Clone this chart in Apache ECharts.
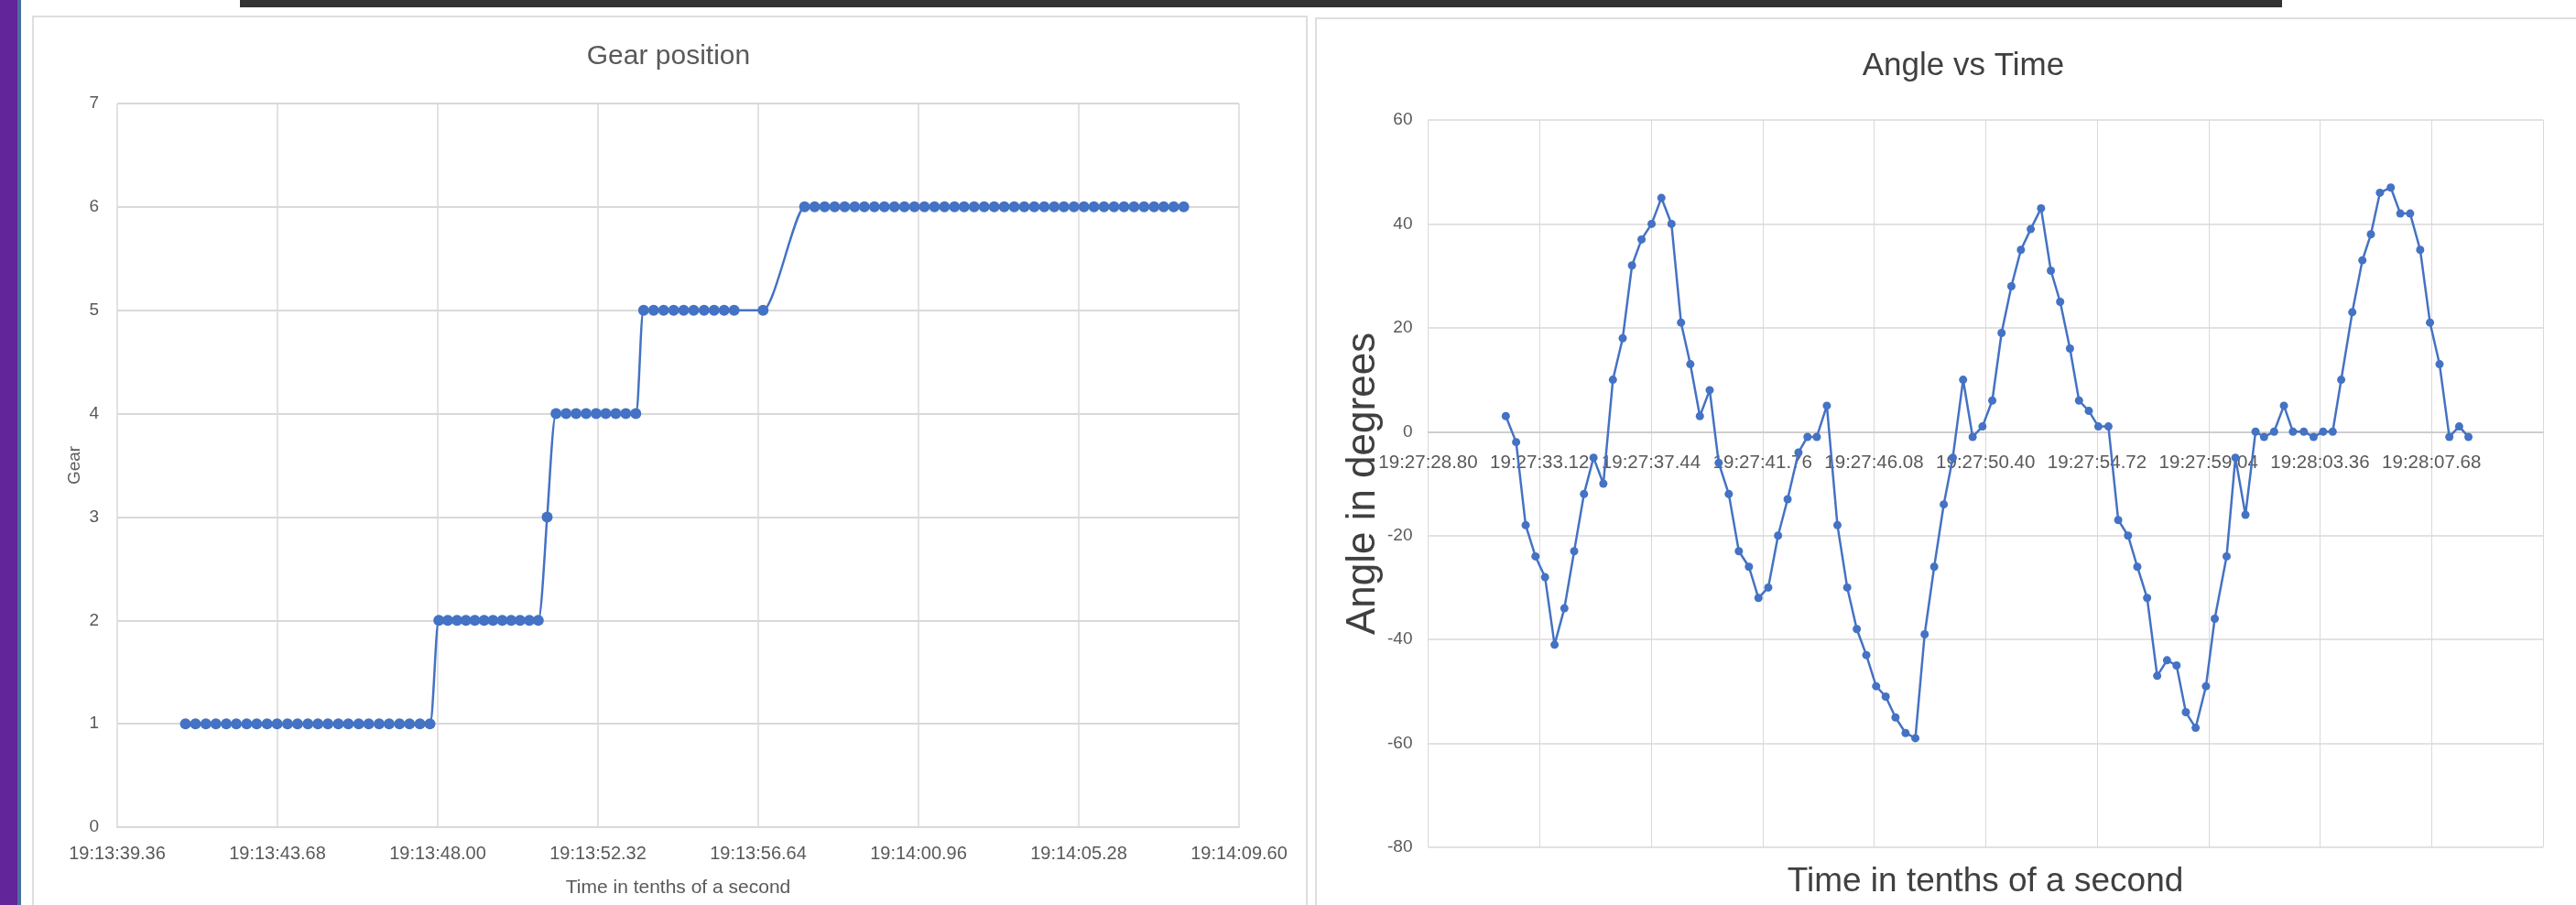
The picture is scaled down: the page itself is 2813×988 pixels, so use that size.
<!DOCTYPE html>
<html>
<head>
<meta charset="utf-8">
<script src="https://cdn.jsdelivr.net/npm/echarts@6/dist/echarts.min.js"></script>
<style>
    html, body { margin: 0; padding: 0; width: 2813px; height: 988px; background: #ffffff; overflow: hidden; }
    #leftbar { position: absolute; left: 0; top: 0; width: 19px; height: 988px; background: #62259a; }
    #leftedge { position: absolute; left: 19px; top: 0; width: 4px; height: 988px; background: #4b6e9e; }
    #topbar { position: absolute; left: 262px; top: 0; width: 2230px; height: 8px; background: #333333; }
    .panel { position: absolute; top: 17px; height: 990px; border: 2px solid #dedede; }
    #panel1 { left: 35px; width: 1389px; }
    #panel2 { left: 1436px; width: 1400px; top: 19px; }
    #chart { position: absolute; left: 0; top: 0; width: 2813px; height: 988px; }
</style>
</head>
<body>
<div id="leftbar"></div>
<div id="leftedge"></div>
<div id="topbar"></div>
<div class="panel" id="panel1"></div>
<div class="panel" id="panel2"></div>
<div id="chart"></div>
<script>
// gear chart: time in seconds after 19:13:00
const gearAxisStart = 39.36;
const gearTickStep = 4.32;
const gearTickLabels = ['19:13:39.36', '19:13:43.68', '19:13:48.00', '19:13:52.32',
    '19:13:56.64', '19:14:00.96', '19:14:05.28', '19:14:09.60'];
const gearSeconds = [
    41.20, 41.47, 41.75, 42.02, 42.30, 42.57, 42.85, 43.12, 43.40, 43.67,
    43.95, 44.22, 44.50, 44.77, 45.04, 45.32, 45.59, 45.87, 46.14, 46.42,
    46.69, 46.97, 47.24, 47.52, 47.79,
    48.03, 48.27, 48.52, 48.76, 49.00, 49.25, 49.49, 49.74, 49.98, 50.22, 50.47, 50.71,
    50.95,
    51.19, 51.46, 51.73, 52.00, 52.27, 52.53, 52.80, 53.07, 53.34,
    53.55, 53.82, 54.09, 54.36, 54.63, 54.90, 55.18, 55.45, 55.72, 55.99, 56.77,
    57.89, 58.16, 58.43, 58.70, 58.97, 59.24, 59.50, 59.77, 60.04, 60.31,
    60.58, 60.85, 61.12, 61.39, 61.66, 61.93, 62.19, 62.46, 62.73, 63.00,
    63.27, 63.54, 63.81, 64.08, 64.35, 64.62, 64.88, 65.15, 65.42, 65.69,
    65.96, 66.23, 66.50, 66.77, 67.04, 67.31, 67.57, 67.84, 68.11
];
const gearValues = [
    1, 1, 1, 1, 1, 1, 1, 1, 1, 1, 1, 1, 1, 1, 1, 1, 1, 1, 1, 1, 1, 1, 1, 1, 1,
    2, 2, 2, 2, 2, 2, 2, 2, 2, 2, 2, 2,
    3,
    4, 4, 4, 4, 4, 4, 4, 4, 4,
    5, 5, 5, 5, 5, 5, 5, 5, 5, 5, 5,
    6, 6, 6, 6, 6, 6, 6, 6, 6, 6, 6, 6, 6, 6, 6, 6, 6, 6, 6, 6,
    6, 6, 6, 6, 6, 6, 6, 6, 6, 6, 6, 6, 6, 6, 6, 6, 6, 6, 6
];

// angle chart: time in seconds after 19:27:28.80
const angleTickStep = 4.32;
const angleTickLabels = ['19:27:28.80', '19:27:33.12', '19:27:37.44', '19:27:41.76',
    '19:27:46.08', '19:27:50.40', '19:27:54.72', '19:27:59.04', '19:28:03.36', '19:28:07.68'];
const angleSeconds = [
    3.01, 3.41, 3.78, 4.16, 4.53, 4.90, 5.28, 5.66, 6.04, 6.41,
    6.79, 7.16, 7.54, 7.90, 8.27, 8.66, 9.04, 9.43, 9.80, 10.16,
    10.53, 10.91, 11.26, 11.65, 12.04, 12.43, 12.80, 13.18, 13.56, 13.93,
    14.35, 14.70, 15.06, 15.45, 15.86, 16.24, 16.61, 16.98, 17.36, 17.73,
    18.11, 18.50, 18.88, 19.24, 19.61, 19.98, 20.33, 20.73, 21.10, 21.48,
    21.86, 22.22, 22.60, 22.97, 23.35, 23.75, 24.13, 24.49, 24.87, 25.22,
    25.60, 25.97, 26.36, 26.74, 27.12, 27.48, 27.86, 28.25, 28.63, 29.00,
    29.36, 29.74, 30.14, 30.48, 30.94, 31.28, 31.67, 32.06, 32.39, 32.78,
    33.16, 33.51, 33.93, 34.31, 34.68, 35.05, 35.38, 35.81, 36.20, 36.53,
    36.88, 37.30, 37.67, 38.05, 38.44, 38.82, 39.19, 39.57, 39.95, 40.31
];
const angleValues = [
    3, -2, -18, -24, -28, -41, -34, -23, -12, -5,
    -10, 10, 18, 32, 37, 40, 45, 40, 21, 13,
    3, 8, -6, -12, -23, -26, -32, -30, -20, -13,
    -4, -1, -1, 5, -18, -30, -38, -43, -49, -51,
    -55, -58, -59, -39, -26, -14, -5, 10, -1, 1,
    6, 19, 28, 35, 39, 43, 31, 25, 16, 6,
    4, 1, 1, -17, -20, -26, -32, -47, -44, -45,
    -54, -57, -49, -36, -24, -5, -16, 0, -1, 0,
    5, 0, 0, -1, 0, 0, 10, 23, 33, 38,
    46, 47, 42, 42, 35, 21, 13, -1, 1, -1
];

const SANS = "'Liberation Sans', Arial, sans-serif";
const BLUE = '#4472c4';
const GRID_GRAY = '#d9d9d9';

const gearData = gearSeconds.map((t, i) => [t - gearAxisStart, gearValues[i]]);
const angleData = angleSeconds.map((t, i) => [t, angleValues[i]]);

var chart = echarts.init(document.getElementById('chart'), null, { renderer: 'canvas' });

var option = {
    animation: false,
    title: [
        {
            text: 'Gear position',
            left: 725,
            top: 42,
            textAlign: 'center',
            textStyle: { fontFamily: SANS, fontSize: 30, fontWeight: 'normal', color: '#595959' }
        },
        {
            text: 'Angle vs Time',
            left: 2139,
            top: 50,
            textAlign: 'center',
            textStyle: { fontFamily: SANS, fontSize: 35, fontWeight: 'normal', color: '#404040' }
        },
        {
            // x axis title of the angle chart (its axis line sits on zero)
            text: 'Time in tenths of a second',
            left: 2163,
            top: 939,
            textAlign: 'center',
            textStyle: { fontFamily: SANS, fontSize: 37, fontWeight: 'normal', color: '#404040' }
        }
    ],
    grid: [
        { left: 128, right: 1460, top: 113, bottom: 85 },
        { left: 1559.5, right: 36, top: 131, bottom: 63 }
    ],
    xAxis: [
        {
            gridIndex: 0,
            type: 'value',
            min: 0,
            max: 30.24,
            interval: gearTickStep,
            axisLine: { show: true, lineStyle: { color: GRID_GRAY, width: 2 } },
            axisTick: { show: false },
            axisLabel: {
                margin: 19,
                fontFamily: SANS,
                fontSize: 20,
                color: '#595959',
                formatter: v => gearTickLabels[Math.round(v / gearTickStep)] || ''
            },
            splitLine: { show: true, lineStyle: { color: GRID_GRAY, width: 1.5 } },
            name: 'Time in tenths of a second',
            nameLocation: 'middle',
            nameGap: 56,
            nameTextStyle: { fontFamily: SANS, fontSize: 21, color: '#595959' }
        },
        {
            gridIndex: 1,
            type: 'value',
            min: 0,
            max: 43.2,
            interval: angleTickStep,
            offset: 0,
            axisLine: { show: true, onZero: false, lineStyle: { color: '#c8c8c8', width: 1.5 } },
            axisTick: { show: false },
            axisLabel: {
                margin: 24,
                fontFamily: SANS,
                fontSize: 20.5,
                color: '#595959',
                formatter: v => angleTickLabels[Math.round(v / angleTickStep)] || ''
            },
            splitLine: { show: true, lineStyle: { color: GRID_GRAY, width: 1 } }
        }
    ],
    yAxis: [
        {
            gridIndex: 0,
            type: 'value',
            min: 0,
            max: 7,
            interval: 1,
            axisLine: { show: false },
            axisTick: { show: false },
            axisLabel: { margin: 20, fontFamily: SANS, fontSize: 19, color: '#595959' },
            splitLine: { show: true, lineStyle: { color: GRID_GRAY, width: 2 } },
            name: 'Gear',
            nameLocation: 'middle',
            nameGap: 37,
            nameTextStyle: { fontFamily: SANS, fontSize: 19, color: '#595959' }
        },
        {
            gridIndex: 1,
            type: 'value',
            min: -80,
            max: 60,
            interval: 20,
            axisLine: { show: false },
            axisTick: { show: false },
            axisLabel: { margin: 17, fontFamily: SANS, fontSize: 19, color: '#595959' },
            splitLine: { show: true, lineStyle: { color: GRID_GRAY, width: 1.5 } },
            name: 'Angle in degrees',
            nameLocation: 'middle',
            nameGap: 46,
            nameTextStyle: { fontFamily: SANS, fontSize: 44, color: '#404040' }
        }
    ],
    series: [
        {
            name: 'Gear',
            type: 'line',
            xAxisIndex: 0,
            yAxisIndex: 0,
            data: gearData,
            smooth: 0.2,
            symbol: 'circle',
            symbolSize: 12,
            lineStyle: { color: BLUE, width: 2.5 },
            itemStyle: { color: BLUE }
        },
        {
            name: 'Angle',
            type: 'line',
            xAxisIndex: 1,
            yAxisIndex: 1,
            data: angleData,
            symbol: 'circle',
            symbolSize: 9,
            lineStyle: { color: BLUE, width: 2.5 },
            itemStyle: { color: BLUE }
        }
    ]
};

chart.setOption(option);

// move the angle chart's time axis (line and labels) up onto the zero line
const zeroY = chart.convertToPixel({ yAxisIndex: 1 }, 0);
const bottomY = chart.convertToPixel({ yAxisIndex: 1 }, -80);
chart.setOption({ xAxis: [{}, { offset: zeroY - bottomY }] });
</script>
</body>
</html>
